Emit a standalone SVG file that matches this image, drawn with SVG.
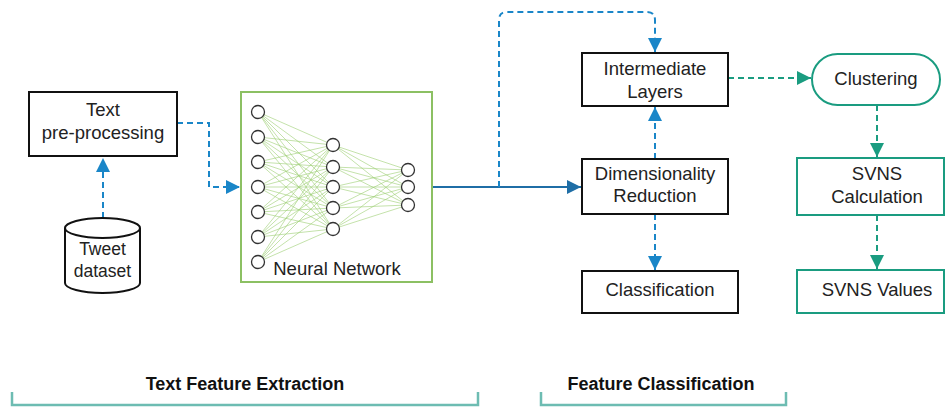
<svg xmlns="http://www.w3.org/2000/svg" width="945" height="408" viewBox="0 0 945 408">
<style>
text{font-family:"Liberation Sans",Arial,sans-serif;font-size:18.5px;fill:#222;text-anchor:middle}
.box{fill:#fff;stroke:#111;stroke-width:2}
.gbox{fill:#fff;stroke:#1a9c80;stroke-width:2}
.nn{fill:#fff;stroke:#8cc063;stroke-width:2}
.neu{fill:#fff;stroke:#333;stroke-width:1.3}
.syn{stroke:#9ccf72;stroke-width:0.6}
.bd{fill:none;stroke:#1a86c8;stroke-width:2;stroke-dasharray:6 4}
.bs{fill:none;stroke:#1f6ea6;stroke-width:2}
.gd{fill:none;stroke:#1a9c80;stroke-width:2;stroke-dasharray:6 4}
.br{fill:none;stroke:#6dbcb2;stroke-width:2.5}
.lbl{font-weight:bold;font-size:18px;fill:#111}
.cyl{font-size:17.5px}
</style>
<defs>
<marker id="ab" viewBox="0 0 10 10" refX="10" refY="5" markerWidth="14" markerHeight="14" markerUnits="userSpaceOnUse" orient="auto"><path d="M0,0L10,5L0,10z" fill="#1a86c8"/></marker>
<marker id="as" viewBox="0 0 10 10" refX="10" refY="5" markerWidth="14" markerHeight="14" markerUnits="userSpaceOnUse" orient="auto"><path d="M0,0L10,5L0,10z" fill="#1f6ea6"/></marker>
<marker id="ag" viewBox="0 0 10 10" refX="10" refY="5" markerWidth="14" markerHeight="14" markerUnits="userSpaceOnUse" orient="auto"><path d="M0,0L10,5L0,10z" fill="#1a9c80"/></marker>
</defs>
<g id="connectors">
<path class="bd" d="M103,218V158" marker-end="url(#ab)"/>
<path class="bd" d="M177,123H209V187H240" marker-end="url(#ab)"/>
<path class="bs" d="M432,187H581" marker-end="url(#as)"/>
<path class="bd" d="M499,187V20Q499,12 507,12H647Q655,12 655,20V52" marker-end="url(#ab)"/>
<path class="bd" d="M655,159V107" marker-end="url(#ab)"/>
<path class="bd" d="M655,214V270" marker-end="url(#ab)"/>
<path class="gd" d="M728,78H811" marker-end="url(#ag)"/>
<path class="gd" d="M877,105V157" marker-end="url(#ag)"/>
<path class="gd" d="M877,215V269" marker-end="url(#ag)"/>
</g>
<g id="text-preprocessing">
<rect class="box" x="29" y="92" width="148" height="64"/>
<text x="103" y="116">Text</text>
<text x="103" y="139">pre-processing</text>
</g>
<g id="tweet-dataset">
<path d="M65,228V283A37.5,10 0 0 0 140,283V228" fill="#fff" stroke="#111" stroke-width="2"/>
<ellipse cx="102.5" cy="228" rx="37.5" ry="10" fill="#fff" stroke="#111" stroke-width="2"/>
<text class="cyl" x="102.5" y="255">Tweet</text>
<text class="cyl" x="102.5" y="277">dataset</text>
</g>
<g id="neural-network">
<rect class="nn" x="241" y="92" width="191" height="190"/>
<g class="syn">
<path d="M258,112L333,145M258,112L333,167M258,112L333,187M258,112L333,208M258,112L333,229
M258,137L333,145M258,137L333,167M258,137L333,187M258,137L333,208M258,137L333,229
M258,162L333,145M258,162L333,167M258,162L333,187M258,162L333,208M258,162L333,229
M258,187L333,145M258,187L333,167M258,187L333,187M258,187L333,208M258,187L333,229
M258,212L333,145M258,212L333,167M258,212L333,187M258,212L333,208M258,212L333,229
M258,237L333,145M258,237L333,167M258,237L333,187M258,237L333,208M258,237L333,229
M258,262L333,145M258,262L333,167M258,262L333,187M258,262L333,208M258,262L333,229
M333,145L408,170M333,145L408,187M333,145L408,205
M333,167L408,170M333,167L408,187M333,167L408,205
M333,187L408,170M333,187L408,187M333,187L408,205
M333,208L408,170M333,208L408,187M333,208L408,205
M333,229L408,170M333,229L408,187M333,229L408,205"/>
</g>
<g class="neu">
<circle cx="258" cy="112" r="6.5"/><circle cx="258" cy="137" r="6.5"/><circle cx="258" cy="162" r="6.5"/><circle cx="258" cy="187" r="6.5"/><circle cx="258" cy="212" r="6.5"/><circle cx="258" cy="237" r="6.5"/><circle cx="258" cy="262" r="6.5"/>
<circle cx="333" cy="145" r="6.5"/><circle cx="333" cy="167" r="6.5"/><circle cx="333" cy="187" r="6.5"/><circle cx="333" cy="208" r="6.5"/><circle cx="333" cy="229" r="6.5"/>
<circle cx="408" cy="170" r="6.5"/><circle cx="408" cy="187" r="6.5"/><circle cx="408" cy="205" r="6.5"/>
</g>
<text x="337" y="275">Neural Network</text>
</g>
<g id="intermediate-layers">
<rect class="box" x="582" y="53" width="146" height="53"/>
<text x="655" y="75">Intermediate</text>
<text x="655" y="98">Layers</text>
</g>
<g id="dimensionality-reduction">
<rect class="box" x="582" y="159" width="146" height="55"/>
<text x="655" y="180">Dimensionality</text>
<text x="655" y="202">Reduction</text>
</g>
<g id="classification">
<rect class="box" x="582" y="271" width="156" height="42"/>
<text x="660" y="296">Classification</text>
</g>
<g id="clustering">
<rect class="gbox" x="812" y="54" width="128" height="51" rx="25.5"/>
<text x="876" y="85">Clustering</text>
</g>
<g id="svns-calculation">
<rect class="gbox" x="797" y="158" width="147" height="57"/>
<text x="877" y="180">SVNS</text>
<text x="877" y="203">Calculation</text>
</g>
<g id="svns-values">
<rect class="gbox" x="797" y="270" width="147" height="43"/>
<text x="877" y="296">SVNS Values</text>
</g>
<g id="text-feature-extraction">
<path class="br" d="M12,392V405H478V392"/>
<text class="lbl" x="245" y="390">Text Feature Extraction</text>
</g>
<g id="feature-classification">
<path class="br" d="M541,392V405H786V392"/>
<text class="lbl" x="661" y="390">Feature Classification</text>
</g>
</svg>
